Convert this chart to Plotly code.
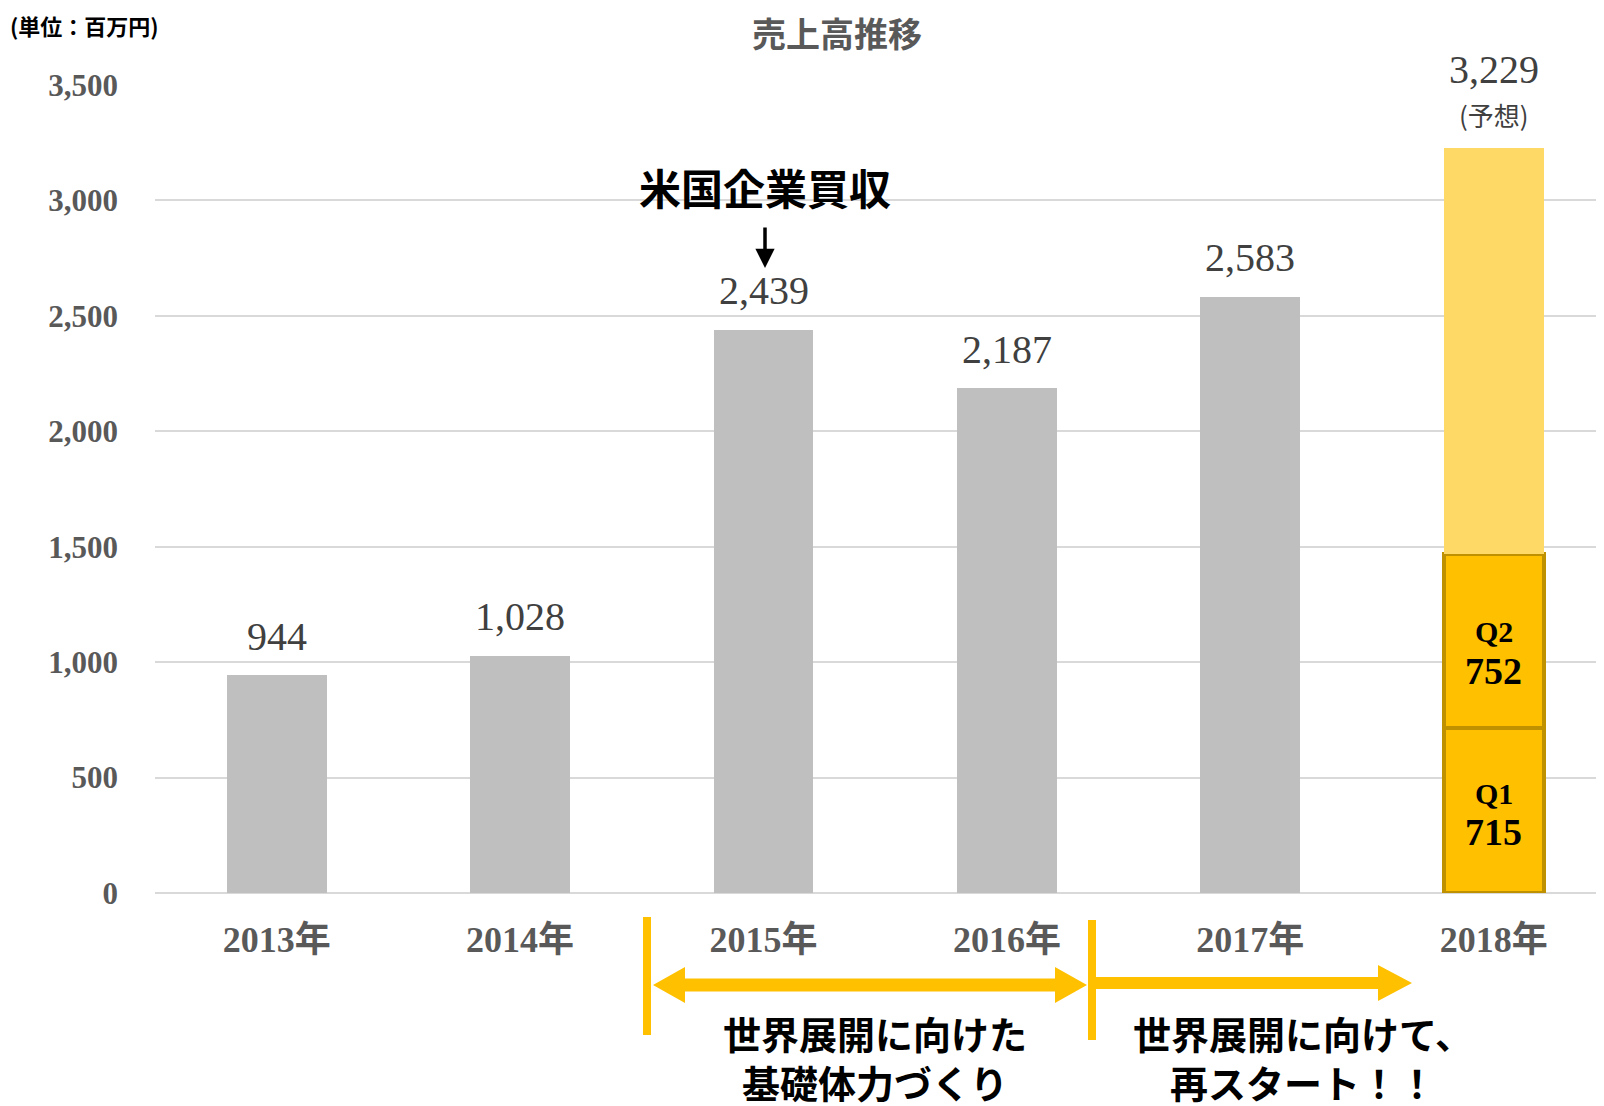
import plotly.graph_objects as go

# ---- data ----
years = ["2013年", "2014年", "2015年", "2016年", "2017年", "2018年"]
sales_actual = [944, 1028, 2439, 2187, 2583, None]
forecast_2018 = 3229
q1_2018 = 715
q2_2018 = 752
y_ticks = [0, 500, 1000, 1500, 2000, 2500, 3000, 3500]
y_tick_labels = ["0", "500", "1,000", "1,500", "2,000", "2,500", "3,000", "3,500"]

# page body has an 8px margin; figure is placed at (8, 8)
OFF = 8
W, H = 1604 - OFF, 1106 - OFF
ML, MR, MT, MB = 155 - OFF, 0, 85 - OFF, 213
PW, PH = W - ML - MR, H - MT - MB

def px2x(px):
    return (px - OFF - ML) / PW

def py2y(py):
    return (H - MB - (py - OFF)) / PH

SERIF = "Liberation Serif, Noto Sans CJK JP, serif"
CJK = "Noto Sans CJK JP, sans-serif"

rest_2018 = forecast_2018 - q1_2018 - q2_2018

fig = go.Figure()
fig.add_bar(x=years, y=sales_actual, marker=dict(color="#BFBFBF", line=dict(width=0)),
            width=0.41, hoverinfo="skip")
fig.add_bar(x=[years[-1]], y=[q1_2018],
            marker=dict(color="#FFC000", line=dict(color="#BF9000", width=4)), width=0.41)
fig.add_bar(x=[years[-1]], y=[q2_2018],
            marker=dict(color="#FFC000", line=dict(color="#BF9000", width=4)), width=0.41)
fig.add_bar(x=[years[-1]], y=[rest_2018],
            marker=dict(color="#FFD966", line=dict(width=0)), width=0.41)

ann = []
# value labels
for i, v in enumerate(sales_actual):
    if v is None:
        continue
    ann.append(dict(x=years[i], y=v, text=f"{v:,}", showarrow=False, yanchor="middle",
                    yshift=39, font=dict(family=SERIF, size=40, color="#404040")))
ann.append(dict(x=years[-1], y=forecast_2018, text=f"{forecast_2018:,}", showarrow=False,
                yanchor="middle", yshift=78, font=dict(family=SERIF, size=40, color="#404040")))
ann.append(dict(x=years[-1], y=forecast_2018, text="(予想)", showarrow=False,
                yanchor="middle", yshift=33, font=dict(family=CJK, size=26, color="#404040")))
# Q labels
ann.append(dict(x=years[-1], y=q1_2018 / 2, text="<b>Q1</b>", showarrow=False, yanchor="middle",
                yshift=17, font=dict(family=SERIF, size=30, color="black")))
ann.append(dict(x=years[-1], y=q1_2018 / 2, text="<b>%d</b>" % q1_2018, showarrow=False,
                yanchor="middle", yshift=-22, font=dict(family=SERIF, size=38, color="black")))
ann.append(dict(x=years[-1], y=q1_2018 + q2_2018 / 2, text="<b>Q2</b>", showarrow=False,
                yanchor="middle", yshift=10, font=dict(family=SERIF, size=30, color="black")))
ann.append(dict(x=years[-1], y=q1_2018 + q2_2018 / 2, text="<b>%d</b>" % q2_2018, showarrow=False,
                yanchor="middle", yshift=-30, font=dict(family=SERIF, size=38, color="black")))

# title and unit
ann.append(dict(xref="paper", yref="paper", x=px2x(837), y=py2y(33), text="<b>売上高推移</b>",
                showarrow=False, xanchor="center", yanchor="middle",
                font=dict(family=CJK, size=34, color="#595959")))
ann.append(dict(xref="paper", yref="paper", x=px2x(8), y=py2y(25), text="<b>(単位：百万円)</b>",
                showarrow=False, xanchor="left", yanchor="middle",
                font=dict(family=CJK, size=22, color="black")))
# acquisition note
ann.append(dict(xref="paper", yref="paper", x=px2x(765), y=py2y(186), text="<b>米国企業買収</b>",
                showarrow=False, xanchor="center", yanchor="middle",
                font=dict(family=CJK, size=42, color="black")))
ann.append(dict(xref="paper", yref="paper", x=px2x(765), y=py2y(268), ax=0, ay=-42,
                text="", showarrow=True, arrowhead=2, arrowsize=1.1, arrowwidth=3.5,
                arrowcolor="black"))
# bottom texts
for txt, cx, cy in [("<b>世界展開に向けた<br>基礎体力づくり</b>", 875, 1057),
                    ("<b>世界展開に向けて、<br>再スタート！！</b>", 1303, 1057)]:
    ann.append(dict(xref="paper", yref="paper", x=px2x(cx), y=py2y(cy), text=txt,
                    showarrow=False, xanchor="center", yanchor="middle", align="center",
                    font=dict(family=CJK, size=38, color="black")))

def path(points):
    return "M " + " L ".join(f"{px2x(a):.5f},{py2y(b):.5f}" for a, b in points) + " Z"

YEL = "#FFC000"
shapes = [
    dict(type="rect", xref="paper", yref="paper", x0=px2x(643), x1=px2x(651),
         y0=py2y(917), y1=py2y(1035), fillcolor=YEL, line=dict(width=0)),
    dict(type="rect", xref="paper", yref="paper", x0=px2x(1088), x1=px2x(1096),
         y0=py2y(920), y1=py2y(1040), fillcolor=YEL, line=dict(width=0)),
    dict(type="path", xref="paper", yref="paper", fillcolor=YEL, line=dict(width=0),
         path=path([(653, 985), (685, 967), (685, 978.5), (1055, 978.5), (1055, 967),
                    (1087, 985), (1055, 1003), (1055, 991.5), (685, 991.5), (685, 1003)])),
    dict(type="path", xref="paper", yref="paper", fillcolor=YEL, line=dict(width=0),
         path=path([(1092, 977), (1378, 977), (1378, 965), (1412, 983), (1378, 1001),
                    (1378, 989), (1092, 989)])),
]

fig.update_layout(
    width=W, height=H, margin=dict(l=ML, r=MR, t=MT, b=MB),
    paper_bgcolor="white", plot_bgcolor="white", barmode="stack", showlegend=False,
    annotations=ann, shapes=shapes,
    xaxis=dict(range=[-0.5, -0.5 + PW / 243.4], showgrid=False, showline=False, zeroline=False,
               tickfont=dict(family=SERIF, size=36, color="#595959", weight="bold"),
               ticklabelstandoff=22, fixedrange=True),
    yaxis=dict(range=[0, 3500], tickvals=y_ticks, ticktext=y_tick_labels,
               showgrid=True, gridcolor="#D9D9D9", gridwidth=2, zeroline=True,
               zerolinecolor="#D9D9D9", zerolinewidth=2, showline=False,
               tickfont=dict(family=SERIF, size=31, color="#595959", weight="bold"),
               ticklabelstandoff=36, fixedrange=True),
)

fig.write_html("out.html")
